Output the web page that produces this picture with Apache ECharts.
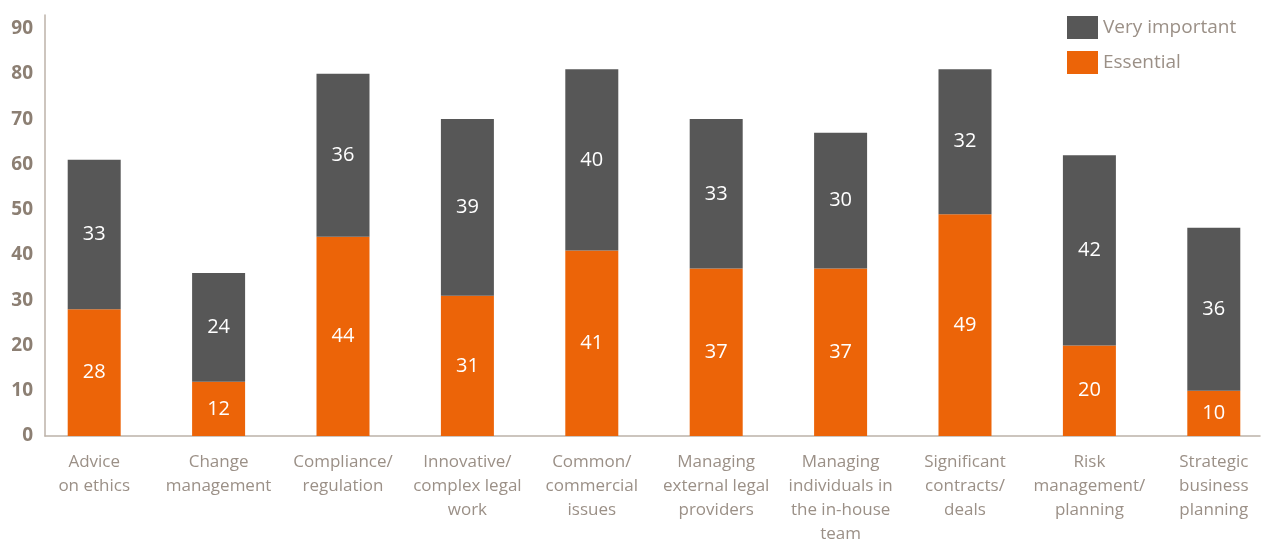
<!DOCTYPE html>
<html>
<head>
<meta charset="utf-8">
<script src="https://cdn.jsdelivr.net/npm/echarts@6/dist/echarts.min.js"></script>
<style>
  html, body { margin: 0; padding: 0; background: #fff; }
  #main { width: 1261px; height: 540px; }
</style>
</head>
<body>
<div id="main"></div>
<script>
var categories = [
  'Advice\non ethics',
  'Change\nmanagement',
  'Compliance/\nregulation',
  'Innovative/\ncomplex legal\nwork',
  'Common/\ncommercial\nissues',
  'Managing\nexternal legal\nproviders',
  'Managing\nindividuals in\nthe in-house\nteam',
  'Significant\ncontracts/\ndeals',
  'Risk\nmanagement/\nplanning',
  'Strategic\nbusiness\nplanning'
];
var essential = [28, 12, 44, 31, 41, 37, 37, 49, 20, 10];
var veryImportant = [33, 24, 36, 39, 40, 33, 30, 32, 42, 36];

var font = 'Open Sans';
var axisColor = '#bcb2a9';
var textColor = '#9b9087';

var myChart = echarts.init(document.getElementById('main'));

var barLabel = {
  show: true,
  position: 'inside',
  color: '#fff',
  fontFamily: font,
  fontSize: 20
};

var option = {
  backgroundColor: '#fff',
  animation: false,
  legend: {
    orient: 'vertical',
    left: 1062,
    top: 11,
    itemWidth: 31,
    itemHeight: 23,
    itemGap: 12,
    itemStyle: { borderWidth: 0 },
    icon: 'rect',
    data: ['Very important', 'Essential'],
    textStyle: { color: textColor, fontFamily: font, fontSize: 19 }
  },
  // grid 0 only carries the axis lines and value labels
  // grid 1 holds the bars (its categories run a bit past the left axis, as in the original)
  grid: [
    { left: 45, right: 1, top: 15, bottom: 104, outerBoundsMode: 'none' },
    { left: 32, right: -15, top: 15, bottom: 104, outerBoundsMode: 'none' }
  ],
  xAxis: [{
    gridIndex: 0,
    type: 'value',
    min: 0,
    max: 1,
    axisLine: { show: true, lineStyle: { color: axisColor, width: 1.5 } },
    axisTick: { show: false },
    axisLabel: { show: false },
    splitLine: { show: false }
  }, {
    gridIndex: 1,
    type: 'category',
    data: categories,
    axisLine: { show: false },
    axisTick: { show: false },
    axisLabel: {
      color: textColor,
      fontFamily: font,
      fontSize: 17,
      lineHeight: 24,
      margin: 14,
      interval: 0
    }
  }],
  yAxis: [{
    gridIndex: 0,
    type: 'value',
    min: 0,
    max: 93,
    interval: 10,
    axisLine: { show: true, lineStyle: { color: axisColor, width: 1.5 } },
    axisTick: { show: false },
    splitLine: { show: false },
    axisLabel: {
      color: '#8c7f73',
      fontFamily: font,
      fontWeight: 'bold',
      fontSize: 19,
      margin: 12,
      padding: [0, 0, 13, 0],
      formatter: function (v) { return v % 10 === 0 ? v : ''; }
    }
  }, {
    gridIndex: 1,
    type: 'value',
    min: 0,
    max: 93,
    show: false
  }],
  series: [{
    name: 'Essential',
    type: 'bar',
    stack: 'total',
    xAxisIndex: 1,
    yAxisIndex: 1,
    barWidth: 53,
    itemStyle: { color: '#ec6408' },
    label: barLabel,
    data: essential
  }, {
    name: 'Very important',
    type: 'bar',
    stack: 'total',
    xAxisIndex: 1,
    yAxisIndex: 1,
    barWidth: 53,
    itemStyle: { color: '#575757' },
    label: barLabel,
    data: veryImportant
  }]
};
myChart.setOption(option);
</script>
</body>
</html>
